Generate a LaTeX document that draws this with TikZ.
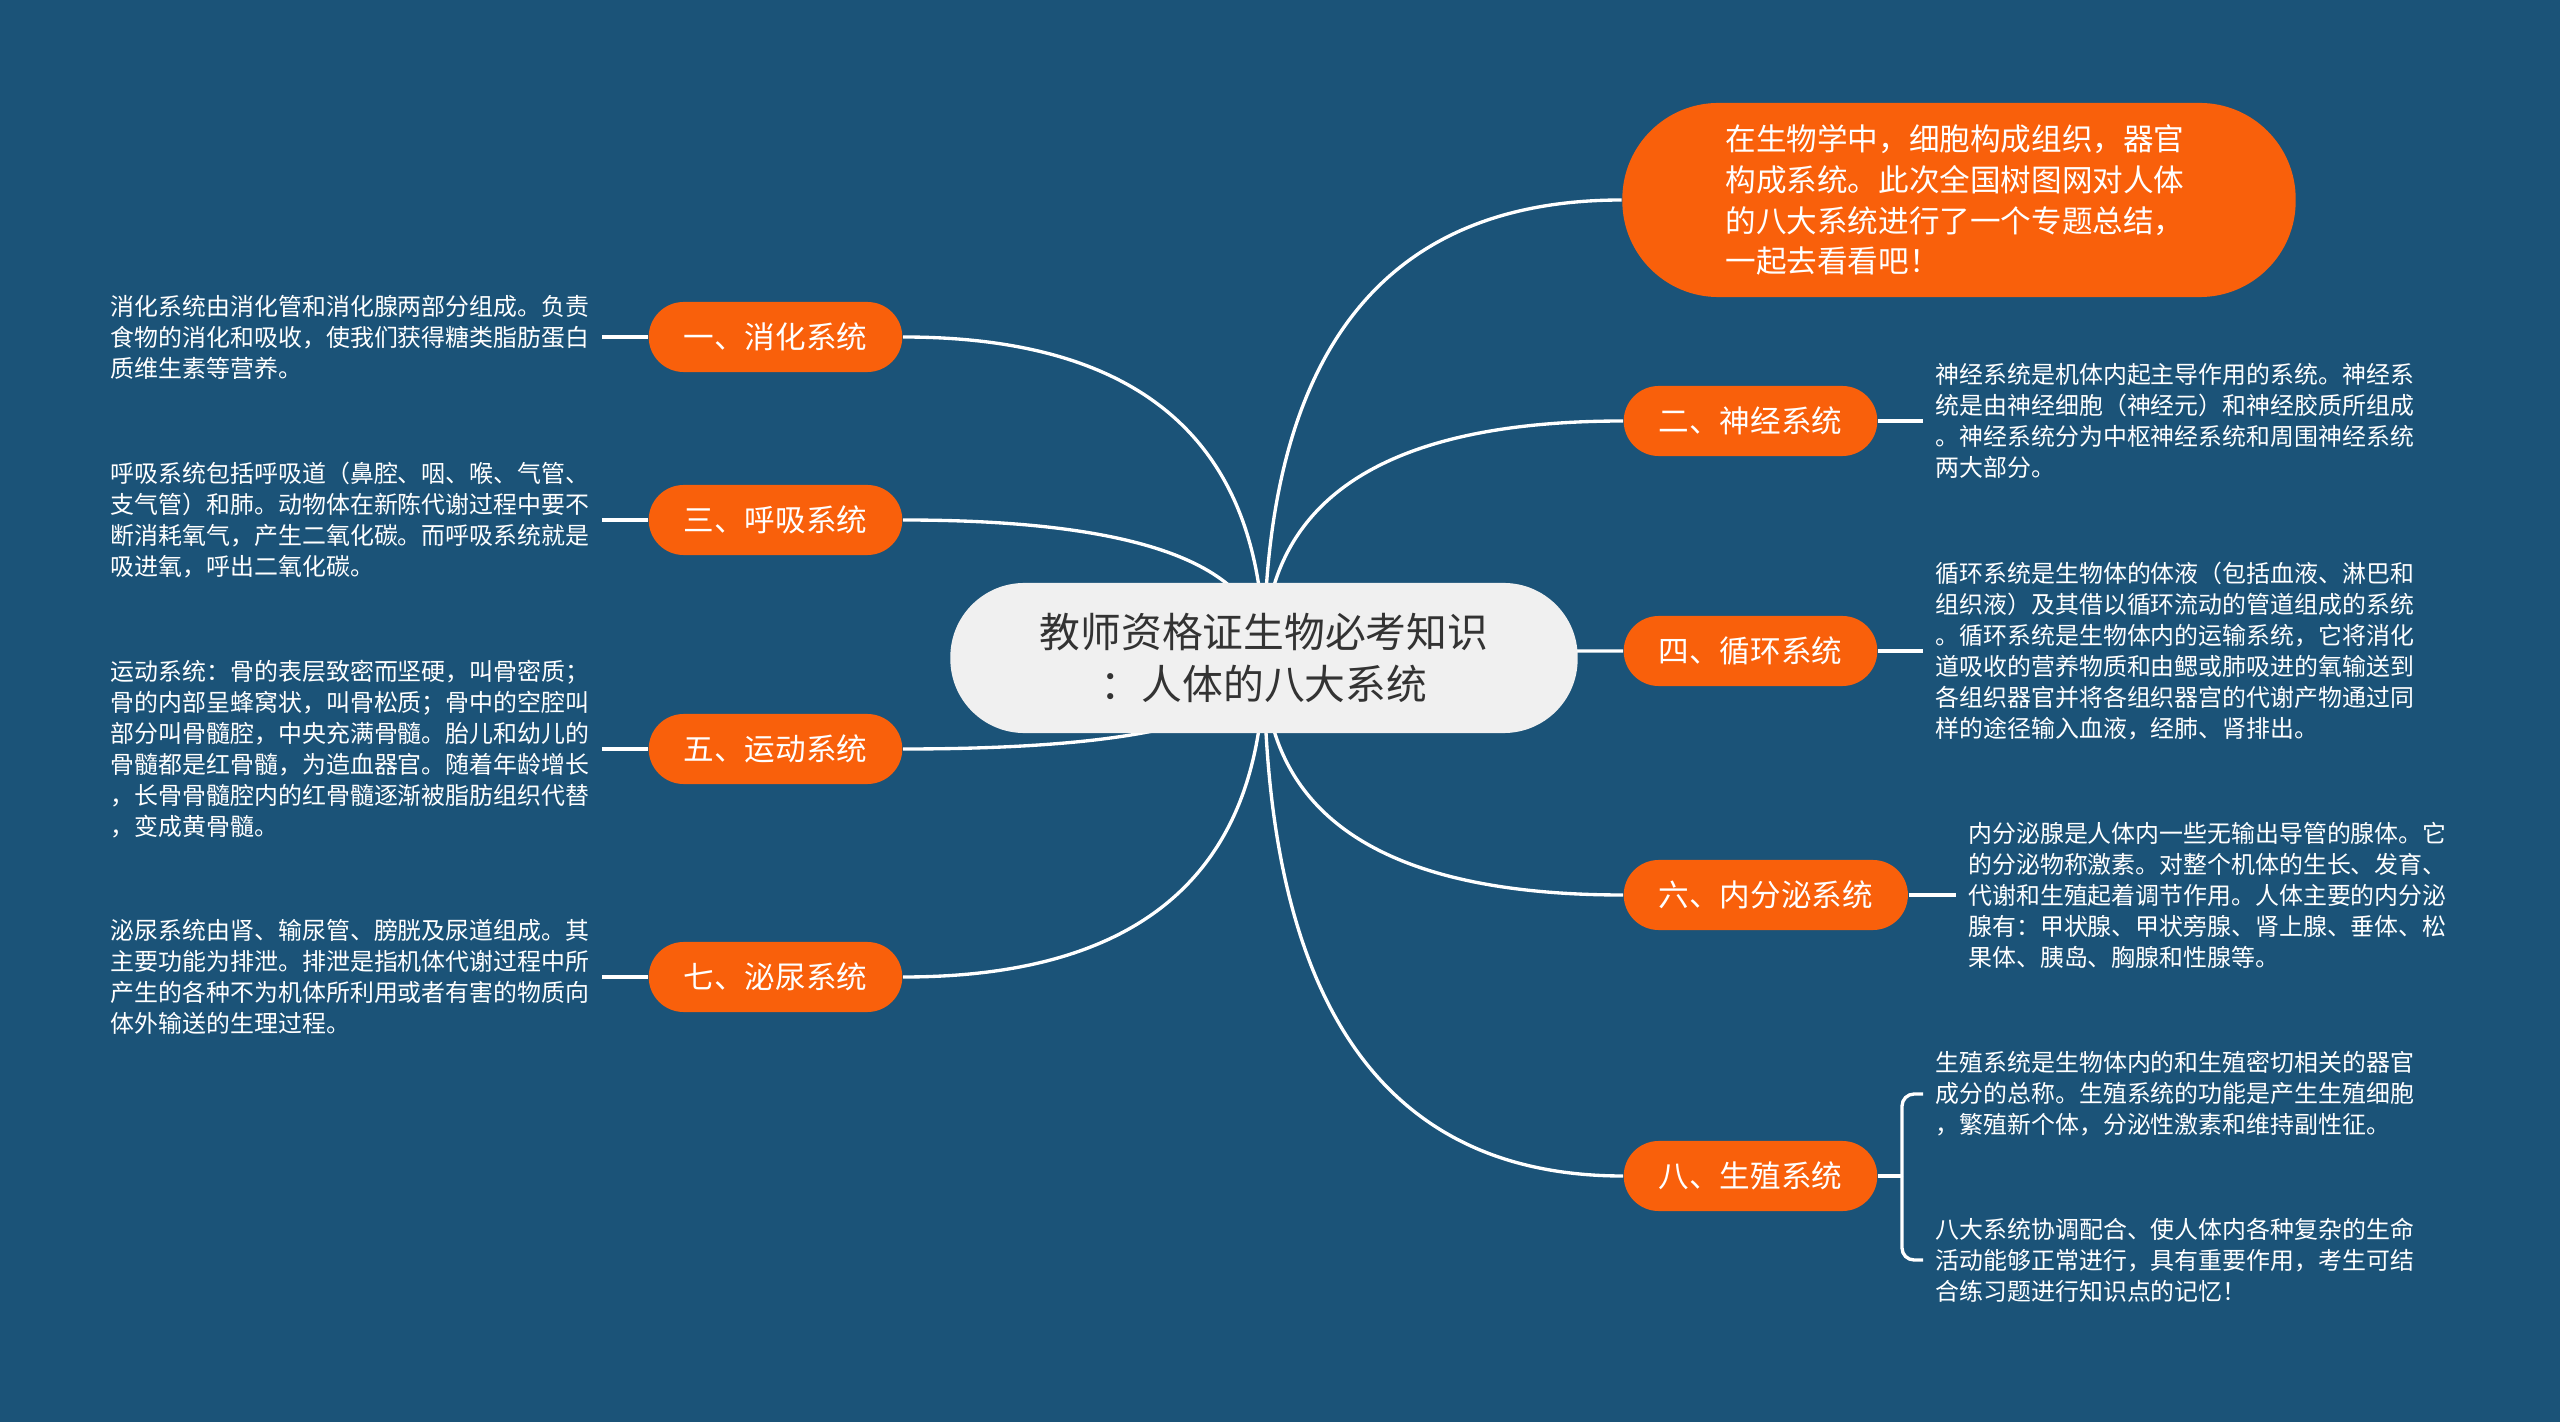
\documentclass[tikz,border=0pt]{standalone}
\usepackage{fontspec}
\setmainfont{Noto Sans CJK SC}
\usetikzlibrary{positioning,calc}
\definecolor{bgblue}{HTML}{1B5378}
\definecolor{sorange}{HTML}{F9600B}
\definecolor{rootgray}{HTML}{F0F0F0}
\definecolor{roottext}{HTML}{333333}
\pgfdeclarelayer{backdrop}
\pgfdeclarelayer{links}
\pgfsetlayers{backdrop,links,main}
\tikzset{
  sroot/.style={fill=rootgray, text=roottext, rounded corners=0.74cm,
                minimum width=6.27cm, minimum height=1.5cm, align=center,
                font=\fontsize{11.6pt}{14.9pt}\selectfont},
  sintro/.style={fill=sorange, text=white, rounded corners=0.96cm,
                 minimum width=6.73cm, minimum height=1.94cm, align=left,
                 font=\fontsize{8.7pt}{11.6pt}\selectfont},
  sbranch/.style={fill=sorange, text=white, rounded corners=0.35cm,
                  inner xsep=0.35cm, inner ysep=0pt, minimum height=0.7cm,
                  font=\fontsize{8.7pt}{10pt}\selectfont},
  sleaf/.style={text=white, align=left, inner xsep=0.12cm, inner ysep=0pt,
                font=\fontsize{6.8pt}{8.83pt}\selectfont},
  slink/.style={draw=white, line width=0.95pt},
}

\begin{document}
\begin{tikzpicture}[x=0.01cm, y=-0.01cm]
  \useasboundingbox (0,0) rectangle (2560,1422);
  \begin{pgfonlayer}{backdrop}
    \fill[bgblue] (0,0) rectangle (2560,1422);
  \end{pgfonlayer}

  % centre topic
  \node[sroot] (c) at (1264,658) {教师资格证生物必考知识\\：人体的八大系统};
  \node[sintro] (intro) at (1959,200)
    {\hspace*{-0.08cm}在生物学中，细胞构成组织，器官\\\hspace*{-0.08cm}构成系统。此次全国树图网对人体\\\hspace*{-0.08cm}的八大系统进行了一个专题总结，\\\hspace*{-0.08cm}一起去看看吧！};

  % branches, left side
  \node[sbranch, anchor=east] (n1) at (903,337) {一、消化系统};
  \node[sbranch, anchor=east] (n3) at (903,520) {三、呼吸系统};
  \node[sbranch, anchor=east] (n5) at (903,749) {五、运动系统};
  \node[sbranch, anchor=east] (n7) at (903,977) {七、泌尿系统};
  % branches, right side
  \node[sbranch, anchor=west] (n2) at (1623,421) {二、神经系统};
  \node[sbranch, anchor=west] (n4) at (1623,651) {四、循环系统};
  \node[sbranch, anchor=west] (n6) at (1623,895) {六、内分泌系统};
  \node[sbranch, anchor=west] (n8) at (1623,1176) {八、生殖系统};

  % leaves
  \node[sleaf, left=0.46cm of n1] (t1)
    {消化系统由消化管和消化腺两部分组成。负责\\食物的消化和吸收，使我们获得糖类脂肪蛋白\\质维生素等营养。};
  \node[sleaf, left=0.46cm of n3] (t3)
    {呼吸系统包括呼吸道（鼻腔、咽、喉、气管、\\支气管）和肺。动物体在新陈代谢过程中要不\\断消耗氧气，产生二氧化碳。而呼吸系统就是\\吸进氧，呼出二氧化碳。};
  \node[sleaf, left=0.46cm of n5] (t5)
    {运动系统：骨的表层致密而坚硬，叫骨密质；\\骨的内部呈蜂窝状，叫骨松质；骨中的空腔叫\\部分叫骨髓腔，中央充满骨髓。胎儿和幼儿的\\骨髓都是红骨髓，为造血器官。随着年龄增长\\，长骨骨髓腔内的红骨髓逐渐被脂肪组织代替\\，变成黄骨髓。};
  \node[sleaf, left=0.46cm of n7] (t7)
    {泌尿系统由肾、输尿管、膀胱及尿道组成。其\\主要功能为排泄。排泄是指机体代谢过程中所\\产生的各种不为机体所利用或者有害的物质向\\体外输送的生理过程。};
  \node[sleaf, right=0.45cm of n2] (t2)
    {神经系统是机体内起主导作用的系统。神经系\\统是由神经细胞（神经元）和神经胶质所组成\\。神经系统分为中枢神经系统和周围神经系统\\两大部分。};
  \node[sleaf, right=0.45cm of n4] (t4)
    {循环系统是生物体的体液（包括血液、淋巴和\\组织液）及其借以循环流动的管道组成的系统\\。循环系统是生物体内的运输系统，它将消化\\道吸收的营养物质和由鳃或肺吸进的氧输送到\\各组织器官并将各组织器宫的代谢产物通过同\\样的途径输入血液，经肺、肾排出。};
  \node[sleaf, right=0.47cm of n6] (t6)
    {内分泌腺是人体内一些无输出导管的腺体。它\\的分泌物称激素。对整个机体的生长、发育、\\代谢和生殖起着调节作用。人体主要的内分泌\\腺有：甲状腺、甲状旁腺、肾上腺、垂体、松\\果体、胰岛、胸腺和性腺等。};
  \node[sleaf, anchor=west] (t8a) at ($(n8.east)+(45,-82)$)
    {生殖系统是生物体内的和生殖密切相关的器官\\成分的总称。生殖系统的功能是产生生殖细胞\\，繁殖新个体，分泌性激素和维持副性征。};
  \node[sleaf, anchor=west] (t8b) at ($(n8.east)+(45,84)$)
    {八大系统协调配合、使人体内各种复杂的生命\\活动能够正常进行，具有重要作用，考生可结\\合练习题进行知识点的记忆！};
  \coordinate (j8) at ($(n8.east)+(24,0)$);

  % connectors
  \begin{pgfonlayer}{links}
    \foreach \n in {n1,n3,n5,n7}
      \draw[slink] (c.center) .. controls ($(c.center)!0.667!(c.center |- \n.east)$)
        and ($(\n.east)!0.667!(c.center |- \n.east)$) .. (\n.east);
    \foreach \n in {intro,n2,n4,n6,n8}
      \draw[slink] (c.center) .. controls ($(c.center)!0.667!(c.center |- \n.west)$)
        and ($(\n.west)!0.667!(c.center |- \n.west)$) .. (\n.west);
  \end{pgfonlayer}
  \foreach \n in {1,3,5,7}
    \draw[slink] (t\n.east) -- (n\n.west);
  \foreach \n in {2,4,6}
    \draw[slink] (n\n.east) -- (t\n.west);
  \draw[slink] (n8.east) -- (j8);
  \draw[slink, rounded corners=0.12cm] (j8) |- (t8a.west);
  \draw[slink, rounded corners=0.12cm] (j8) |- (t8b.west);
\end{tikzpicture}
\end{document}
